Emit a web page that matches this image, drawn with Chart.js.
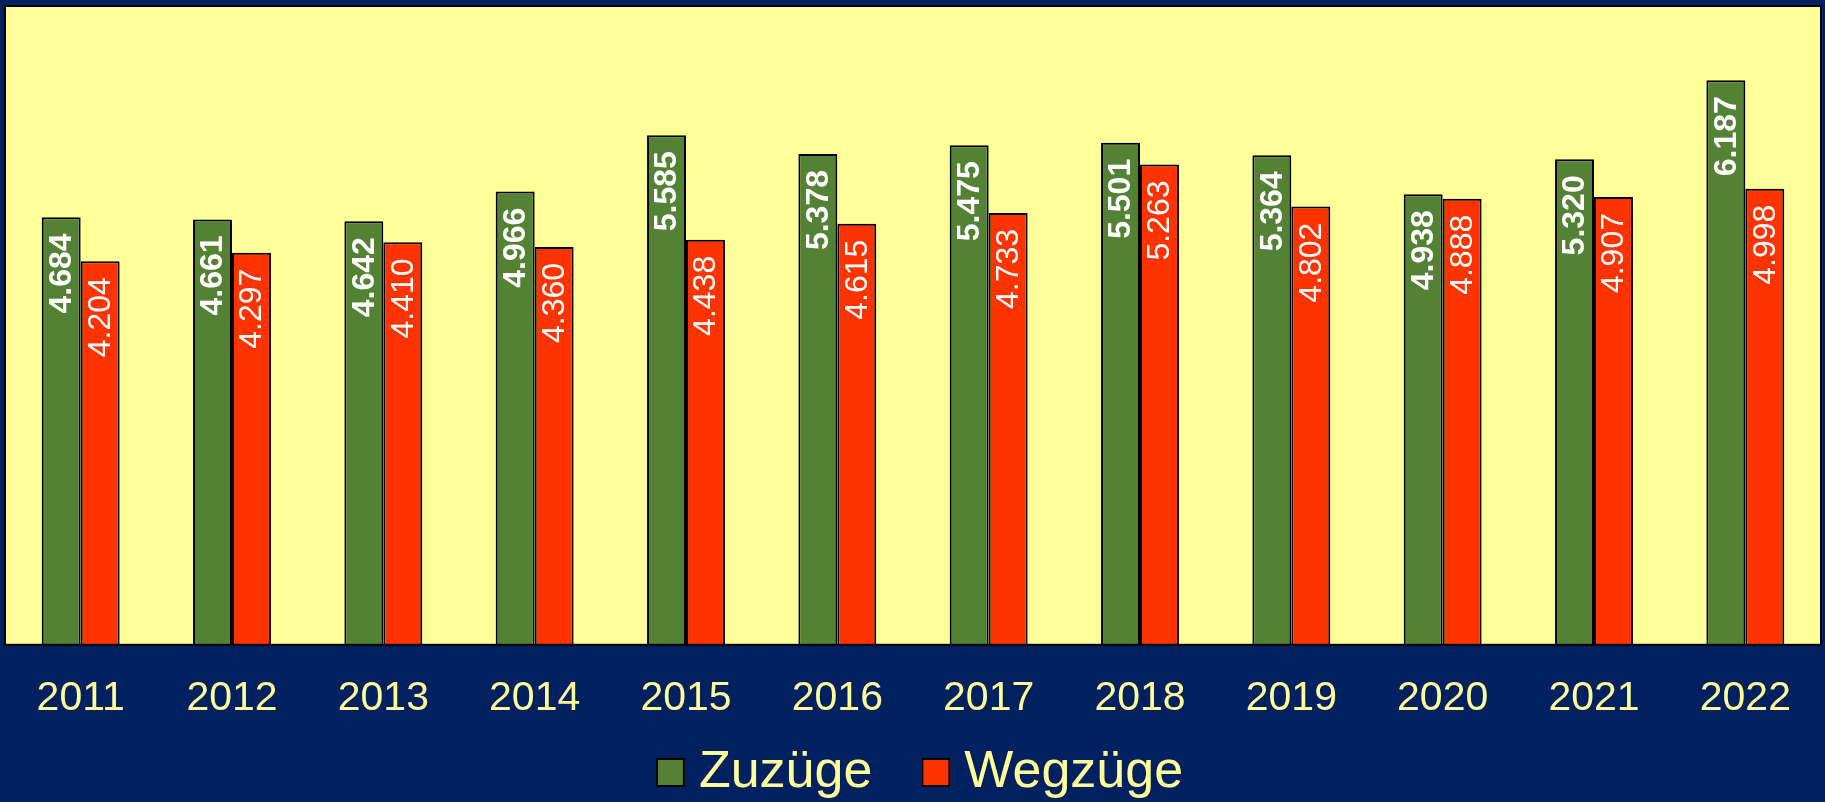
<!DOCTYPE html>
<html>
<head>
<meta charset="utf-8">
<script src="https://cdn.jsdelivr.net/npm/chart.js@4"></script>
<style>
  html, body { margin: 0; padding: 0; background: #002060; }
  #wrap { width: 1825px; height: 802px; }
</style>
</head>
<body>
<div id="wrap"><canvas id="chart" width="1825" height="802"></canvas></div>
<script>
// years on the x axis
const years = ['2011', '2012', '2013', '2014', '2015', '2016', '2017', '2018', '2019', '2020', '2021', '2022'];

// moves in (Zuzüge) and moves out (Wegzüge)
const zuzuege = [4684, 4661, 4642, 4966, 5585, 5378, 5475, 5501, 5364, 4938, 5320, 6187];
const wegzuege = [4204, 4297, 4410, 4360, 4438, 4615, 4733, 5263, 4802, 4888, 4907, 4998];

const yMax = 7000;

const FONT = '"Liberation Sans", Arial, sans-serif';
const TEXT_YELLOW = '#FFFF99';

// 4684 -> "4.684"
function fmt(v) {
  return String(v).replace(/\B(?=(\d{3})+(?!\d))/g, '.');
}

// yellow plot area with black frame
const plotFrame = {
  id: 'plotFrame',
  beforeDraw(chart) {
    const { ctx, chartArea: a } = chart;
    ctx.save();
    ctx.fillStyle = '#FFFF99';
    ctx.fillRect(a.left, a.top, a.right - a.left, a.bottom - a.top);
    ctx.restore();
  },
  afterDatasetsDraw(chart) {
    const { ctx, chartArea: a } = chart;
    ctx.save();
    ctx.strokeStyle = '#000000';
    ctx.lineWidth = 2;
    ctx.strokeRect(a.left, a.top, a.right - a.left, a.bottom - a.top);
    ctx.restore();
  }
};

// rotated value labels at the top inside each bar
const barLabels = {
  id: 'barLabels',
  afterDatasetsDraw(chart) {
    const ctx = chart.ctx;
    chart.data.datasets.forEach((ds, i) => {
      const meta = chart.getDatasetMeta(i);
      meta.data.forEach((bar, j) => {
        ctx.save();
        ctx.translate(bar.x, bar.y + 16);
        ctx.rotate(-Math.PI / 2);
        ctx.textAlign = 'right';
        ctx.textBaseline = 'middle';
        ctx.fillStyle = '#FFFFFF';
        ctx.font = (i === 0 ? 'bold ' : '') + '32px ' + FONT;
        ctx.fillText(fmt(ds.data[j]), 0, 1);
        ctx.restore();
      });
    });
  }
};

// legend under the axis: square swatch, short gap, label
const bottomLegend = {
  id: 'bottomLegend',
  afterDraw(chart) {
    const ctx = chart.ctx;
    const box = 29, gap = 14, itemGap = 49;
    ctx.save();
    ctx.font = '52px ' + FONT;
    const items = chart.data.datasets.map(ds => ({
      text: ds.label,
      color: ds.backgroundColor,
      w: ctx.measureText(ds.label).width
    }));
    let total = 0;
    items.forEach((it, k) => {
      total += box + gap + it.w + (k < items.length - 1 ? itemGap : 0);
    });
    let x = (chart.width - total) / 2 + 7;
    const boxTop = 758;
    const baseline = 787;
    items.forEach(it => {
      ctx.fillStyle = it.color;
      ctx.fillRect(x, boxTop, box, box);
      ctx.strokeStyle = '#000000';
      ctx.lineWidth = 2;
      ctx.strokeRect(x + 1, boxTop + 1, box - 2, box - 2);
      x += box + gap;
      ctx.fillStyle = TEXT_YELLOW;
      ctx.textBaseline = 'alphabetic';
      ctx.textAlign = 'left';
      ctx.fillText(it.text, x, baseline);
      x += it.w + itemGap;
    });
    ctx.restore();
  }
};

const ctx = document.getElementById('chart').getContext('2d');
new Chart(ctx, {
  type: 'bar',
  data: {
    labels: years,
    datasets: [
      {
        label: 'Zuzüge',
        data: zuzuege,
        backgroundColor: '#548235',
        borderColor: '#000000',
        borderWidth: 2,
        borderSkipped: 'bottom'
      },
      {
        label: 'Wegzüge',
        data: wegzuege,
        backgroundColor: '#FF3300',
        borderColor: '#000000',
        borderWidth: 2,
        borderSkipped: 'bottom'
      }
    ]
  },
  options: {
    responsive: false,
    animation: false,
    layout: { padding: { left: 5, right: 4, top: 6, bottom: 50 } },
    datasets: {
      bar: { categoryPercentage: 0.515, barPercentage: 1.0 }
    },
    scales: {
      x: {
        grid: { display: false, drawTicks: false },
        border: { display: false },
        ticks: {
          color: TEXT_YELLOW,
          font: { family: FONT, size: 41 },
          padding: 29
        }
      },
      y: {
        display: false,
        min: 0,
        max: yMax
      }
    },
    plugins: {
      tooltip: { enabled: false },
      legend: { display: false }
    }
  },
  plugins: [plotFrame, barLabels, bottomLegend]
});
</script>
</body>
</html>
